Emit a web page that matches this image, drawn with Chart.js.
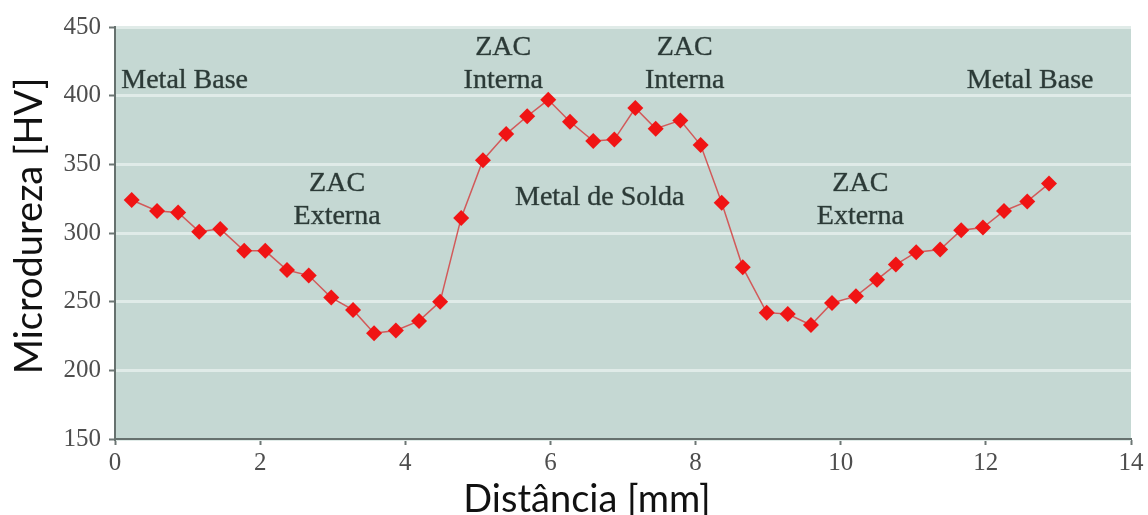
<!DOCTYPE html>
<html>
<head>
<meta charset="utf-8">
<script src="https://cdn.jsdelivr.net/npm/chart.js@4.4.1/dist/chart.umd.min.js"></script>
<style>
  html, body { margin: 0; padding: 0; background: #ffffff; overflow: hidden; }
  #wrap { width: 1148px; height: 515px; position: relative; }
</style>
</head>
<body>
<div id="wrap"><canvas id="myChart"></canvas></div>
<script>
// hardness profile across the weld (distance in mm, hardness in HV)
const distances = [0.23, 0.58, 0.87, 1.16, 1.45, 1.78, 2.07, 2.37, 2.67, 2.98, 3.28, 3.57, 3.87, 4.19, 4.48,
	4.77, 5.07, 5.39, 5.68, 5.97, 6.27, 6.59, 6.88, 7.17, 7.45, 7.79, 8.07, 8.36, 8.65,
	8.98, 9.27, 9.59, 9.88, 10.21, 10.5, 10.76, 11.04, 11.37, 11.66, 11.96, 12.25, 12.57, 12.87];
const hardness = [324, 316, 315, 301, 303, 287, 287, 273, 269, 253, 244, 227, 229, 236, 250,
	311, 353, 372, 385, 397, 381, 367, 368, 391, 376, 382, 364, 322, 275,
	242, 241, 233, 249, 254, 266, 277, 286, 288, 302, 304, 316, 323, 336];

const xTicks = [0, 2, 4, 6, 8, 10, 12, 14];
const yTicks = [150, 200, 250, 300, 350, 400, 450];
const xTitle = 'Distância [mm]';
const yTitle = 'Microdureza [HV]';

// zone names, placed in data units
const zoneText = [['Metal Base'], ['ZAC', 'Externa'], ['ZAC', 'Interna'], ['Metal de Solda'], ['ZAC', 'Interna'], ['ZAC', 'Externa'], ['Metal Base']];
const zoneX = [0.96, 3.06, 5.35, 6.68, 7.85, 10.27, 12.61];
const zoneY = [411, 336, 435, 326, 435, 336, 411];

const points = [];
for (let i = 0; i < distances.length; i++) {
	points.push({ x: distances[i], y: hardness[i] });
}

const ctx = document.getElementById('myChart');

// greenish panel behind the plot
const panelBg = {
	id: 'panelBg',
	beforeDraw(chart) {
		const a = chart.chartArea;
		const c = chart.ctx;
		c.save();
		c.fillStyle = '#c5d8d3';
		c.fillRect(a.left, a.top, a.right - a.left, a.bottom - a.top);
		c.restore();
	}
};

// zone labels + axis titles (titles sit a bit off centre, x title cut by the bottom edge)
const zoneLabels = {
	id: 'zoneLabels',
	afterDatasetsDraw(chart) {
		const c = chart.ctx;
		const xs = chart.scales.x;
		const ys = chart.scales.y;
		c.save();
		c.font = '28px "Liberation Serif", "DejaVu Serif", serif';
		c.fillStyle = '#2c3a37';
		c.strokeStyle = 'rgba(44,58,55,0.6)';
		c.lineWidth = 0.6;
		c.textAlign = 'center';
		c.textBaseline = 'middle';
		for (let i = 0; i < zoneText.length; i++) {
			const px = xs.getPixelForValue(zoneX[i]);
			const py = ys.getPixelForValue(zoneY[i]);
			zoneText[i].forEach((line, k) => {
				c.fillText(line, px, py + k * 33);
				c.strokeText(line, px, py + k * 33);
			});
		}
		c.font = '38px Lato, "Open Sans", sans-serif';
		c.fillStyle = '#111111';
		c.textBaseline = 'alphabetic';
		c.fillText(xTitle, chart.width / 2 + 13, 512);
		c.translate(42, 226);
		c.rotate(-Math.PI / 2);
		c.fillText(yTitle, 0, 0);
		c.restore();
	}
};

new Chart(ctx, {
	type: 'line',
	data: {
		datasets: [{
			data: points,
			borderColor: '#d25a5a',
			borderWidth: 1.5,
			backgroundColor: '#f01414',
			pointStyle: 'rectRot',
			pointRadius: 8,
			pointBorderWidth: 0,
			pointHoverRadius: 8,
			tension: 0
		}]
	},
	options: {
		responsive: true,
		maintainAspectRatio: false,
		animation: false,
		events: [],
		layout: { padding: { top: 27, right: 17, left: 0, bottom: 0 } },
		plugins: {
			legend: { display: false },
			tooltip: { enabled: false }
		},
		scales: {
			x: {
				type: 'linear',
				min: 0,
				max: 14,
				afterFit(scale) { scale.height = 76; },
				afterBuildTicks(scale) { scale.ticks = xTicks.map(v => ({ value: v })); },
				grid: { drawOnChartArea: false, tickLength: 6, tickColor: '#6d7674', tickWidth: 2 },
				border: { color: '#66716e', width: 2 },
				ticks: {
					color: '#4e4e4e',
					padding: 3,
					maxRotation: 0,
					font: { family: '"Liberation Serif", "DejaVu Serif", serif', size: 25 }
				},
				title: { display: false }
			},
			y: {
				min: 150,
				max: 450,
				afterFit(scale) { scale.width = 115; },
				afterBuildTicks(scale) { scale.ticks = yTicks.map(v => ({ value: v })); },
				grid: { color: '#e0ebe8', lineWidth: 3, tickLength: 6, tickColor: '#6d7674', tickWidth: 2 },
				border: { color: '#66716e', width: 2 },
				ticks: {
					color: '#4e4e4e',
					padding: 8,
					font: { family: '"Liberation Serif", "DejaVu Serif", serif', size: 25 }
				},
				title: { display: false }
			}
		}
	},
	plugins: [panelBg, zoneLabels]
});
</script>
</body>
</html>
